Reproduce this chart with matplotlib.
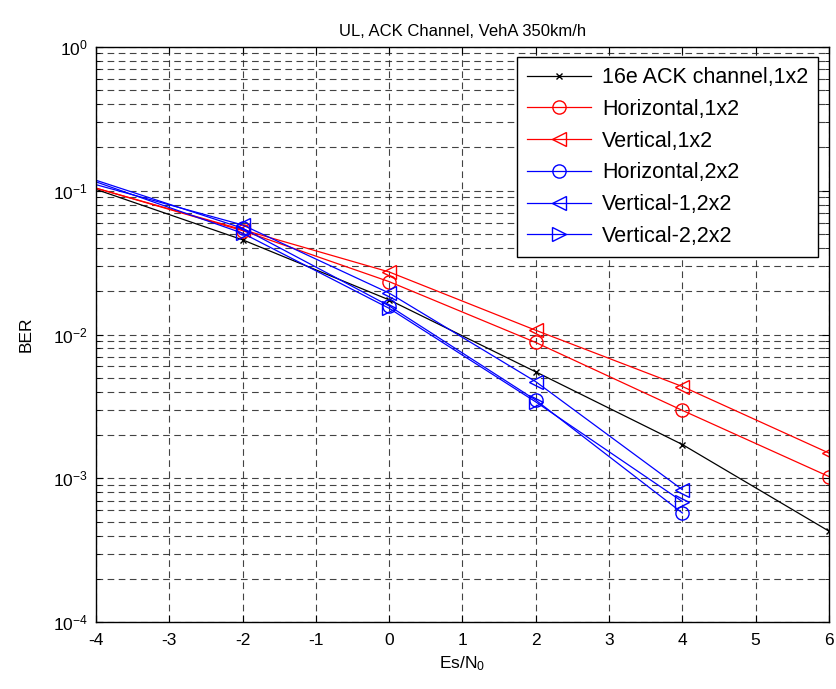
import matplotlib
matplotlib.use("Agg")
import matplotlib.pyplot as plt
from matplotlib.ticker import LogLocator, NullFormatter, FixedLocator

plt.rcParams["font.family"] = ["Liberation Sans", "DejaVu Sans"]
plt.rcParams["axes.unicode_minus"] = False
plt.rcParams["mathtext.fontset"] = "custom"
plt.rcParams["mathtext.rm"] = "Liberation Sans"
plt.rcParams["mathtext.it"] = "Liberation Sans"
plt.rcParams["mathtext.default"] = "regular"

# Es/N0 values (dB)
snr_1x2 = [-4, -2, 0, 2, 4, 6]
snr_2x2 = [-4, -2, 0, 2, 4]

# BER curves
ber_16e = [0.102, 0.0455, 0.0174, 0.0055, 0.00172, 0.00043]
ber_h_1x2 = [0.104, 0.0527, 0.0233, 0.0088, 0.00297, 0.00103]
ber_v_1x2 = [0.104, 0.0535, 0.0272, 0.0107, 0.00435, 0.0015]
ber_h_2x2 = [0.118, 0.0548, 0.0158, 0.0035, 0.000575]
ber_v1_2x2 = [0.110, 0.0577, 0.0194, 0.0047, 0.000835]
ber_v2_2x2 = [0.115, 0.0506, 0.0152, 0.0034, 0.00069]

labels = ["16e ACK channel,1x2", "Horizontal,1x2", "Vertical,1x2",
          "Horizontal,2x2", "Vertical-1,2x2", "Vertical-2,2x2"]

fig = plt.figure(figsize=(8.37, 6.89), dpi=100)
ax = fig.add_axes([0.1147, 0.0968, 0.8757, 0.8354])

lw = 0.9
ms = 9.5
skip = slice(1, None)  # no marker drawn at the -4 edge
ax.semilogy(snr_1x2, ber_16e, color="black", marker="x", ms=5, lw=lw, markevery=skip, label=labels[0])
ax.semilogy(snr_1x2, ber_h_1x2, color="red", marker="o", ms=ms, mfc="none", lw=lw, markevery=skip, label=labels[1])
ax.semilogy(snr_1x2, ber_v_1x2, color="red", marker="<", ms=ms, mfc="none", lw=lw, markevery=skip, label=labels[2])
ax.semilogy(snr_2x2, ber_h_2x2, color="blue", marker="o", ms=ms, mfc="none", lw=lw, markevery=skip, label=labels[3])
ax.semilogy(snr_2x2, ber_v1_2x2, color="blue", marker="<", ms=ms, mfc="none", lw=lw, markevery=skip, label=labels[4])
ax.semilogy(snr_2x2, ber_v2_2x2, color="blue", marker=">", ms=ms, mfc="none", lw=lw, markevery=skip, label=labels[5])

ax.set_xlim(-4, 6)
ax.set_ylim(1e-4, 1)
ax.xaxis.set_major_locator(FixedLocator(range(-4, 7)))
ax.yaxis.set_major_locator(LogLocator(base=10, numticks=10))
ax.yaxis.set_minor_locator(LogLocator(base=10, subs=range(2, 10), numticks=20))
ax.yaxis.set_minor_formatter(NullFormatter())

grid_style = dict(color="#222222", linestyle=(0, (6, 4)), linewidth=0.8, alpha=0.85)
ax.grid(True, which="major", axis="both", **grid_style)
ax.grid(True, which="minor", axis="y", **grid_style)

ax.tick_params(which="both", direction="in", top=True, right=True, labelsize=12.5)
ax.tick_params(which="major", length=5)
ax.tick_params(which="minor", length=3)
ax.tick_params(axis="x", pad=8)
ax.tick_params(axis="y", pad=6)
for s in ax.spines.values():
    s.set_linewidth(1.0)

ax.set_title("UL, ACK Channel, VehA 350km/h", fontsize=12, pad=8)
ax.set_xlabel("Es/N$_0$", fontsize=12.5, labelpad=4)
ax.set_ylabel("BER", fontsize=12.5, labelpad=14)

leg = ax.legend(loc="upper right", fontsize=15.5, frameon=True, fancybox=False,
                edgecolor="black", framealpha=1, handlelength=3.0,
                labelspacing=0.5, borderaxespad=0.5, borderpad=0.45,
                handletextpad=0.5)
leg.get_frame().set_linewidth(1.0)

fig.savefig("out.png", dpi=100)
